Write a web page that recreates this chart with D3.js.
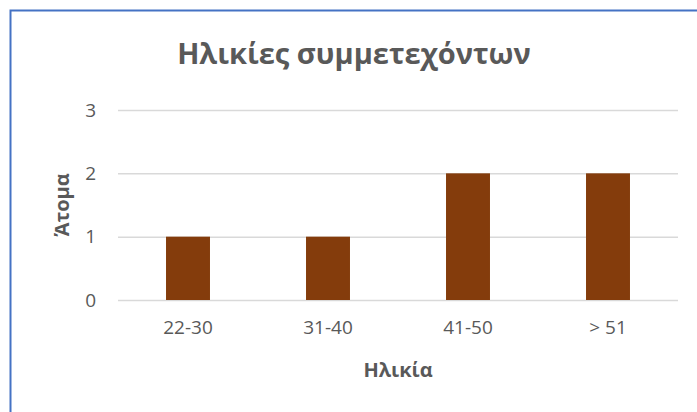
<!DOCTYPE html>
<html>
<head>
<meta charset="utf-8">
<script src="https://cdn.jsdelivr.net/npm/d3@7"></script>
<style>
  body { margin: 0; background: #fff; }
  text { font-family: 'Open Sans', sans-serif; fill: #595959; }
</style>
</head>
<body>
<div class="container"></div>
<script>
  const categories = ['22-30', '31-40', '41-50', '> 51'];
  const values = [1, 1, 2, 2];
  const yTicks = [0, 1, 2, 3];

  const width = 697;
  const height = 412;
  const padding = { top: 110, right: 19, bottom: 112, left: 118 };

  const svg = d3.select('.container')
    .append('svg')
    .attr('width', width)
    .attr('height', height);

  // Chart frame (only top and left edges are visible in the crop)
  svg.append('path')
    .attr('d', `M10.5,${height} V10.5 H${width}`)
    .attr('fill', 'none')
    .attr('stroke', '#4472C4')
    .attr('stroke-width', 2);

  const xScale = d3.scaleBand()
    .domain(categories)
    .range([padding.left, width - padding.right])
    .paddingInner(0.686)
    .paddingOuter(0.343);

  const yScale = d3.scaleLinear()
    .domain([0, 3])
    .range([height - padding.bottom, padding.top]);

  // Gridlines
  svg.append('g')
    .selectAll('line')
    .data(yTicks)
    .enter()
    .append('line')
    .attr('x1', padding.left)
    .attr('x2', width - padding.right)
    .attr('y1', d => yScale(d) + 0.5)
    .attr('y2', d => yScale(d) + 0.5)
    .attr('stroke', '#D9D9D9')
    .attr('stroke-width', 1.5);

  // Bars
  svg.selectAll('rect.bar')
    .data(values)
    .enter()
    .append('rect')
    .attr('class', 'bar')
    .attr('x', (d, i) => xScale(categories[i]))
    .attr('y', d => yScale(d))
    .attr('width', xScale.bandwidth())
    .attr('height', d => yScale(0) - yScale(d))
    .style('fill', '#843C0C');

  // Y axis labels
  const yAxis = svg.append('g')
    .attr('transform', `translate(${padding.left - 22}, 0)`)
    .call(d3.axisLeft(yScale).tickValues(yTicks).tickFormat(d3.format('d')).tickSize(0).tickPadding(0));
  yAxis.select('.domain').remove();
  yAxis.selectAll('text')
    .attr('font-size', 19)
    .attr('font-family', null)
    .attr('fill', null);

  // X axis labels
  const xAxis = svg.append('g')
    .attr('transform', `translate(0, ${height - padding.bottom})`)
    .call(d3.axisBottom(xScale).tickSize(0).tickPadding(21));
  xAxis.select('.domain').remove();
  xAxis.selectAll('text')
    .attr('font-size', 19)
    .attr('font-family', null)
    .attr('fill', null);

  // Title
  svg.append('text')
    .attr('x', 354)
    .attr('y', 64)
    .attr('text-anchor', 'middle')
    .attr('font-size', 29)
    .attr('font-weight', 'bold')
    .text('Ηλικίες συμμετεχόντων');

  // Axis titles
  svg.append('text')
    .attr('x', (padding.left + width - padding.right) / 2)
    .attr('y', 377)
    .attr('text-anchor', 'middle')
    .attr('font-size', 20)
    .attr('font-weight', 'bold')
    .text('Ηλικία');

  svg.append('text')
    .attr('transform', 'translate(69, 205) rotate(-90)')
    .attr('text-anchor', 'middle')
    .attr('font-size', 20)
    .attr('font-weight', 'bold')
    .text('Άτομα');
</script>
</body>
</html>
